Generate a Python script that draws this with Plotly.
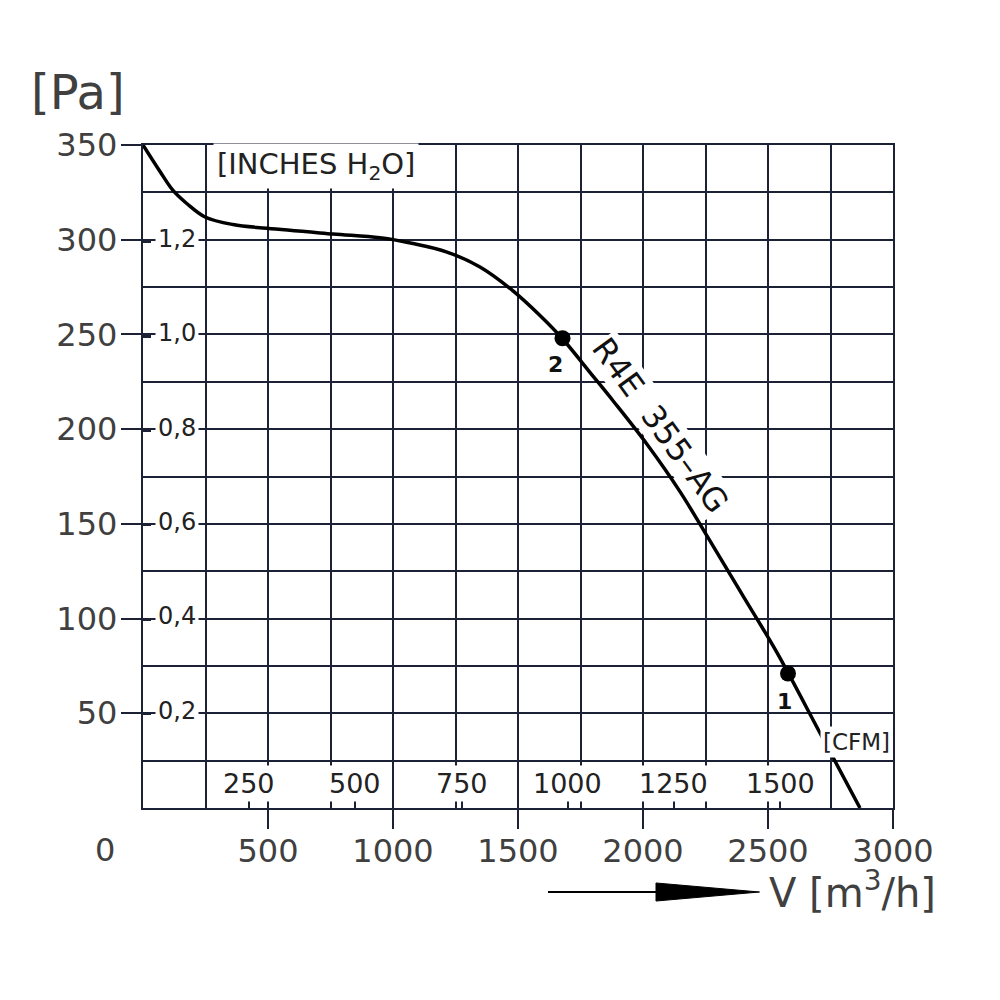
import plotly.graph_objects as go

# fan curve R4E 355-AG
flow = [0, 68, 120, 176, 248, 360, 496, 760, 948, 1080, 1216, 1348, 1480, 1588, 1676,
        1800, 1880, 2016, 2148, 2268, 2400, 2536, 2708, 2868]
pressure = [350, 336, 326, 319, 312, 308, 306, 303, 301, 298, 293.5, 285.6, 273, 260, 248,
            228, 215, 192, 167, 141, 112, 82, 39.6, 0]

# operating points
pt_flow = [2580, 1678]
pt_pressure = [71, 248]
pt_names = ["1", "2"]

# axis ticks
x_ticks = [500, 1000, 1500, 2000, 2500, 3000]
y_ticks = [50, 100, 150, 200, 250, 300, 350]
inch_ticks = [0.2, 0.4, 0.6, 0.8, 1.0, 1.2]
inch_labels = ["0,2", "0,4", "0,6", "0,8", "1,0", "1,2"]
cfm_ticks = [250, 500, 750, 1000, 1250, 1500]
cfm_labels = ["250", "500", "750", "1000", "1250", "1500"]

PA_PER_INCH = 249.089
M3H_PER_CFM = 1.699
GRID = "#1c2136"
LABEL = "#404040"
FONT = "DejaVu Sans"

fig = go.Figure()

fig.add_trace(go.Scatter(
    x=flow, y=pressure, mode="lines",
    line=dict(color="black", width=3.5, shape="spline", smoothing=1.0),
    showlegend=False, hoverinfo="skip"))

fig.add_trace(go.Scatter(
    x=pt_flow, y=pt_pressure, mode="markers",
    marker=dict(color="black", size=16),
    showlegend=False))

# empty traces so the secondary (inch / cfm) axes get drawn
fig.add_trace(go.Scatter(x=[None], y=[None], yaxis="y2", showlegend=False))
fig.add_trace(go.Scatter(x=[None], y=[None], xaxis="x2", showlegend=False))

# page has an 8px body margin, so the margins are shifted by that much
fig.update_layout(
    width=1000, height=1000,
    margin=dict(l=135, r=115, t=137, b=200),
    paper_bgcolor="white", plot_bgcolor="white",
    font=dict(family=FONT, color=LABEL),
    xaxis=dict(
        range=[0, 3000], tickvals=x_ticks,
        showgrid=True, gridcolor=GRID, gridwidth=2.4,
        minor=dict(dtick=250, showgrid=True, gridcolor=GRID, gridwidth=2.4),
        showline=True, linecolor=GRID, linewidth=2.4, mirror=True,
        ticks="outside", ticklen=19, tickwidth=2, tickcolor=GRID,
        ticklabelstandoff=-6,
        tickfont=dict(size=32, color=LABEL), zeroline=False),
    yaxis=dict(
        range=[0, 350], tickvals=y_ticks,
        showgrid=True, gridcolor=GRID, gridwidth=2.4,
        minor=dict(dtick=25, showgrid=True, gridcolor=GRID, gridwidth=2.4),
        showline=True, linecolor=GRID, linewidth=2.4, mirror=True,
        ticks="outside", ticklen=20, tickwidth=2, tickcolor=GRID,
        ticklabelstandoff=-3,
        tickfont=dict(size=32, color=LABEL), zeroline=False),
    yaxis2=dict(
        range=[0, 350 / PA_PER_INCH], overlaying="y", side="left", anchor="x",
        tickvals=inch_ticks, showticklabels=False, showgrid=False,
        ticks="inside", ticklen=8, tickwidth=2.5, tickcolor=GRID, zeroline=False),
    xaxis2=dict(
        range=[0, 3000 / M3H_PER_CFM], overlaying="x", side="bottom", anchor="y",
        tickvals=cfm_ticks, showticklabels=False, showgrid=False,
        ticks="inside", ticklen=8, tickwidth=2, tickcolor=GRID, zeroline=False),
)

# inch H2O labels on the left column
for v, t in zip(inch_ticks, inch_labels):
    fig.add_annotation(x=0, y=v, xref="x", yref="y2", text=t, showarrow=False,
                       xanchor="left", yanchor="middle", xshift=12, yshift=3,
                       bgcolor="white", borderpad=2,
                       font=dict(size=24, color="#222", family=FONT))

# cfm labels in the bottom row
for v, t in zip(cfm_ticks, cfm_labels):
    fig.add_annotation(x=v, y=12.5, xref="x2", yref="y", text=t, showarrow=False,
                       xanchor="center", yanchor="middle", yshift=1,
                       bgcolor="white", borderpad=2,
                       font=dict(size=27, color="#222", family=FONT))

fig.add_annotation(x=692, y=339, xref="x", yref="y", text="[INCHES H<sub>2</sub>O]",
                   showarrow=False, xanchor="center", yanchor="middle",
                   bgcolor="white", borderpad=3,
                   font=dict(size=29, color="#222", family=FONT))
fig.add_annotation(x=2852, y=35, xref="x", yref="y", text="[CFM]",
                   showarrow=False, xanchor="center", yanchor="middle",
                   bgcolor="white", borderpad=2,
                   font=dict(size=23, color="#222", family=FONT))

# model name along the curve
fig.add_annotation(x=2068, y=202, xref="x", yref="y", text="R4E&nbsp;&nbsp;355–AG",
                   showarrow=False, textangle=54, bgcolor="white", borderpad=0,
                   xanchor="center", yanchor="middle",
                   font=dict(size=32, color="#111", family=FONT))

# point numbers
fig.add_annotation(x=pt_flow[0], y=pt_pressure[0], text="<b>" + pt_names[0] + "</b>",
                   showarrow=False, xshift=-4, yshift=-28,
                   font=dict(size=22, color="#111", family=FONT))
fig.add_annotation(x=pt_flow[1], y=pt_pressure[1], text="<b>" + pt_names[1] + "</b>",
                   showarrow=False, xshift=-7, yshift=-26,
                   font=dict(size=22, color="#111", family=FONT))

# origin label and units
fig.add_annotation(x=-0.051, y=-0.063, xref="paper", yref="paper", text="0",
                   showarrow=False, xanchor="center", yanchor="middle",
                   font=dict(size=32, color=LABEL))
fig.add_annotation(x=-0.152, y=1.08, xref="paper", yref="paper", text="[Pa]",
                   showarrow=False, xanchor="left", yanchor="middle",
                   font=dict(size=48, color=LABEL))
fig.add_annotation(x=0.832, y=-0.124, xref="paper", yref="paper",
                   text="V [m<sup>3</sup>/h]", showarrow=False,
                   xanchor="left", yanchor="middle",
                   font=dict(size=40, color=LABEL))

# flow direction arrow
fig.add_shape(type="line", xref="paper", yref="paper",
              x0=0.54, x1=0.70, y0=-0.1267, y1=-0.1267,
              line=dict(color="black", width=2))
fig.add_shape(type="path", xref="paper", yref="paper",
              path="M 0.684 -0.1131 L 0.822 -0.1267 L 0.684 -0.1403 Z",
              fillcolor="black", line=dict(color="black", width=1))

fig.write_html("out.html")
